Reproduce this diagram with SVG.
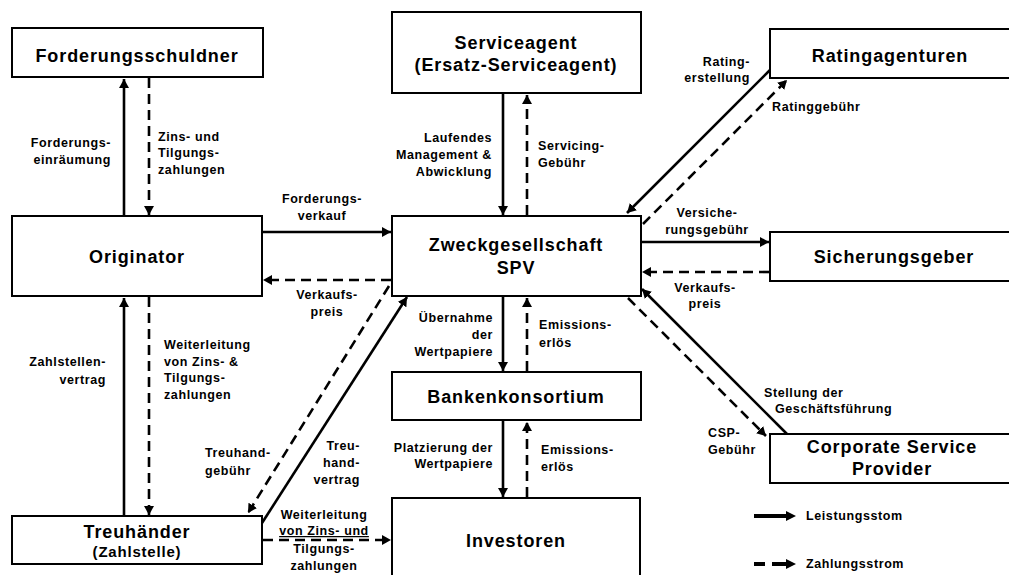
<svg xmlns="http://www.w3.org/2000/svg" width="1009" height="575" viewBox="0 0 1009 575">
<style>
.box{fill:#fff;stroke:#000;stroke-width:2}
.t{font-family:"Liberation Sans",Arial,sans-serif;font-weight:bold;font-size:18px;letter-spacing:0.9px;fill:#000;text-anchor:middle}
.l{font-family:"Liberation Sans",Arial,sans-serif;font-weight:bold;font-size:12.5px;letter-spacing:0.6px;fill:#000}
.s{stroke:#000;stroke-width:2.6;fill:none;marker-end:url(#ah)}
.d{stroke:#000;stroke-width:2.6;fill:none;stroke-dasharray:10,6;marker-end:url(#ah)}
.e{text-anchor:end}
.m{text-anchor:middle}
</style>
<defs>
<marker id="ah" markerUnits="userSpaceOnUse" markerWidth="10" markerHeight="10" refX="9" refY="5" orient="auto">
<path d="M0,0 L9,5 L0,10 z" fill="#000"/>
</marker>
</defs>
<rect width="1009" height="575" fill="#fff"/>

<g id="forderungsschuldner"><rect class="box" x="12" y="28" width="251" height="49"/><text class="t" x="137" y="62">Forderungsschuldner</text></g>
<g id="serviceagent"><rect class="box" x="392" y="12" width="249" height="81"/><text class="t" x="516" y="49">Serviceagent</text><text class="t" x="516" y="71">(Ersatz-Serviceagent)</text></g>
<g id="ratingagenturen"><rect class="box" x="770" y="29" width="250" height="49"/><text class="t" x="890" y="62">Ratingagenturen</text></g>
<g id="originator"><rect class="box" x="12" y="216" width="250" height="80"/><text class="t" x="137" y="263">Originator</text></g>
<g id="spv"><rect class="box" x="392" y="216" width="249" height="80"/><text class="t" x="516" y="251">Zweckgesellschaft</text><text class="t" x="516" y="274">SPV</text></g>
<g id="sicherungsgeber"><rect class="box" x="770" y="232" width="250" height="49"/><text class="t" x="894" y="263">Sicherungsgeber</text></g>
<g id="bankenkonsortium"><rect class="box" x="392" y="372" width="249" height="48"/><text class="t" x="516" y="403">Bankenkonsortium</text></g>
<g id="investoren"><rect class="box" x="392" y="498" width="248" height="90"/><text class="t" x="516" y="547">Investoren</text></g>
<g id="treuhaender"><rect class="box" x="12" y="516" width="250" height="48"/><text class="t" x="137" y="538">Treuhänder</text><text class="t" x="137" y="557" style="font-size:15px;letter-spacing:0.8px">(Zahlstelle)</text></g>
<g id="csp"><rect class="box" x="770" y="434" width="250" height="49"/><text class="t" x="892" y="453">Corporate Service</text><text class="t" x="892" y="475">Provider</text></g>

<g id="connectors">
<line class="s" x1="124" y1="216" x2="124" y2="79"/>
<line class="d" x1="149" y1="78" x2="149" y2="215"/>
<line class="s" x1="503" y1="94" x2="503" y2="215"/>
<line class="d" x1="527" y1="215" x2="527" y2="95"/>
<line class="s" x1="263" y1="232" x2="391" y2="232"/>
<line class="d" x1="391" y1="280" x2="263" y2="280"/>
<line class="s" x1="770" y1="70" x2="627" y2="213"/>
<line class="d" x1="643" y1="224" x2="787" y2="80"/>
<line class="s" x1="642" y1="242" x2="769" y2="242"/>
<line class="d" x1="769" y1="272" x2="642" y2="272"/>
<line class="s" x1="787" y1="434" x2="642" y2="289"/>
<line class="d" x1="628" y1="298" x2="766" y2="436"/>
<line class="s" x1="503" y1="297" x2="503" y2="371"/>
<line class="d" x1="527" y1="371" x2="527" y2="298"/>
<line class="s" x1="503" y1="421" x2="503" y2="497"/>
<line class="d" x1="527" y1="497" x2="527" y2="422"/>
<line class="s" x1="124" y1="515" x2="124" y2="298"/>
<line class="d" x1="149" y1="297" x2="149" y2="515"/>
<line class="s" x1="262" y1="523" x2="407" y2="297"/>
<line class="d" x1="389" y1="286" x2="248" y2="513"/>
<line class="d" x1="263" y1="540" x2="391" y2="540"/>
</g>

<g id="labels">
<text class="l e" x="111" y="147">Forderungs-</text>
<text class="l e" x="111" y="164">einräumung</text>
<text class="l" x="158" y="141">Zins- und</text>
<text class="l" x="158" y="157">Tilgungs-</text>
<text class="l" x="158" y="174">zahlungen</text>
<text class="l e" x="492" y="142">Laufendes</text>
<text class="l e" x="492" y="159">Management &amp;</text>
<text class="l e" x="492" y="176">Abwicklung</text>
<text class="l" x="538" y="150">Servicing-</text>
<text class="l" x="538" y="167">Gebühr</text>
<text class="l m" x="322" y="203">Forderungs-</text>
<text class="l m" x="322" y="220">verkauf</text>
<text class="l m" x="327" y="299">Verkaufs-</text>
<text class="l m" x="327" y="316">preis</text>
<text class="l e" x="750" y="66">Rating-</text>
<text class="l e" x="750" y="82">erstellung</text>
<text class="l" x="772" y="111">Ratinggebühr</text>
<text class="l m" x="707" y="217">Versiche-</text>
<text class="l m" x="707" y="234">rungsgebühr</text>
<text class="l m" x="705" y="292">Verkaufs-</text>
<text class="l m" x="705" y="308">preis</text>
<text class="l e" x="493" y="322">Übernahme</text>
<text class="l e" x="493" y="339">der</text>
<text class="l e" x="493" y="356">Wertpapiere</text>
<text class="l" x="539" y="329">Emissions-</text>
<text class="l" x="539" y="347">erlös</text>
<text class="l e" x="106" y="366">Zahlstellen-</text>
<text class="l e" x="106" y="384">vertrag</text>
<text class="l" x="164" y="349">Weiterleitung</text>
<text class="l" x="164" y="366">von Zins- &amp;</text>
<text class="l" x="164" y="382">Tilgungs-</text>
<text class="l" x="164" y="399">zahlungen</text>
<text class="l" x="764" y="397">Stellung der</text>
<text class="l" x="775" y="413">Geschäftsführung</text>
<text class="l" x="708" y="437">CSP-</text>
<text class="l" x="708" y="454">Gebühr</text>
<text class="l" x="205" y="457">Treuhand-</text>
<text class="l" x="205" y="475">gebühr</text>
<text class="l e" x="360" y="450">Treu-</text>
<text class="l e" x="360" y="467">hand-</text>
<text class="l e" x="360" y="484">vertrag</text>
<text class="l e" x="493" y="452">Platzierung der</text>
<text class="l e" x="493" y="468">Wertpapiere</text>
<text class="l" x="541" y="454">Emissions-</text>
<text class="l" x="541" y="471">erlös</text>
<text class="l m" x="324" y="519">Weiterleitung</text>
<text class="l m" x="324" y="535" text-decoration="underline">von Zins- und</text>
<text class="l m" x="324" y="553">Tilgungs-</text>
<text class="l m" x="324" y="570">zahlungen</text>
</g>

<g id="legend">
<line x1="754" y1="516" x2="787" y2="516" stroke="#000" stroke-width="4"/>
<path d="M786,511 L796,516 L786,521 z" fill="#000"/>
<text class="l" x="806" y="520">Leistungsstom</text>
<line x1="754" y1="564" x2="765" y2="564" stroke="#000" stroke-width="4"/>
<line x1="772" y1="564" x2="787" y2="564" stroke="#000" stroke-width="4"/>
<path d="M786,559 L796,564 L786,569 z" fill="#000"/>
<text class="l" x="806" y="568">Zahlungsstrom</text>
</g>
</svg>
